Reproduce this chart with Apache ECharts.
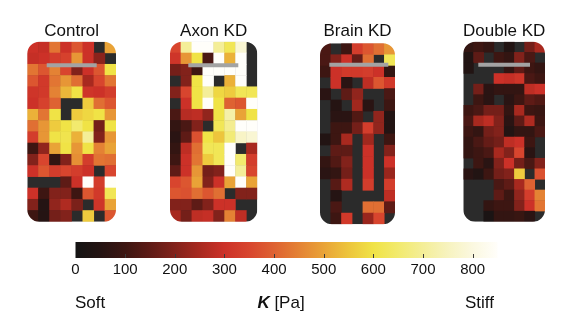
<!DOCTYPE html>
<html>
<head>
<meta charset="utf-8">
<script src="https://cdn.jsdelivr.net/npm/echarts@6/dist/echarts.min.js"></script>
<style>html,body{margin:0;padding:0;background:#fff;}#c{width:571px;height:315px;}</style>
</head>
<body>
<div id="c"></div>
<script>
// ---- data: stiffness K [Pa] per cell (null = no data, dark grey) ----
var panelNames = ['Control', 'Axon KD', 'Brain KD', 'Double KD'];
var controlK = [
 [300,290,430,300,380,300,null,500],
 [290,300,330,340,480,300,210,null],
 [430,380,450,350,200,300,380,600],
 [380,320,430,480,420,250,350,430],
 [310,320,450,530,600,310,300,330],
 [300,340,400,null,null,560,420,380],
 [520,430,600,null,560,580,600,480],
 [420,480,560,600,650,600,180,600],
 [330,480,600,610,520,700,200,480],
 [100,220,500,600,480,600,450,500],
 [200,350,80,200,470,330,430,420],
 [300,380,330,350,330,300,null,350],
 [null,null,null,150,300,850,330,850],
 [300,100,200,200,100,380,320,620],
 [200,50,220,260,190,null,310,500],
 [100,50,180,200,null,560,null,380]
];
var axonK = [
 [350,700,850,850,700,620,780,null],
 [310,480,600,120,850,520,850,null],
 [180,200,100,850,850,850,850,null],
 [null,200,600,850,null,520,850,null],
 [200,350,600,700,580,560,620,620],
 [null,300,600,850,600,400,380,850],
 [120,270,280,220,600,720,500,600],
 [80,120,200,null,620,690,850,850],
 [60,150,370,600,550,660,760,780],
 [80,280,420,620,620,850,null,250],
 [100,300,430,560,620,850,650,330],
 [150,300,480,180,200,850,700,350],
 [350,380,500,200,300,500,850,500],
 [380,370,420,380,420,null,200,200],
 [200,200,150,200,300,300,null,null],
 [250,180,280,290,200,450,280,null]
];
var brainK = [
 [120,null,100,330,380,420,480],
 [120,200,300,160,420,null,620],
 [100,300,320,320,330,300,80],
 [null,300,60,null,280,380,320],
 [60,null,150,220,null,null,120],
 [null,50,null,240,60,null,100],
 [null,60,60,130,null,220,40],
 [null,100,100,180,330,220,40],
 [40,100,250,null,240,null,100],
 [null,150,150,null,300,null,200],
 [80,130,200,null,300,null,300],
 [60,80,180,null,300,null,230],
 [null,140,260,null,330,null,330],
 [null,50,null,null,null,null,280],
 [null,120,null,null,420,420,150],
 [null,100,320,null,230,350,null]
];
var doubleK = [
 [80,100,80,null,40,null,180,250],
 [40,150,null,100,80,200,120,null],
 [40,null,null,null,80,150,100,80],
 [null,null,null,300,290,310,120,100],
 [null,180,60,80,80,80,280,300],
 [null,100,60,null,60,100,150,130],
 [100,120,180,180,80,250,100,90],
 [120,250,280,200,60,150,260,100],
 [100,80,180,200,40,80,80,120],
 [80,120,160,180,280,300,100,null],
 [80,100,120,250,200,350,60,null],
 [null,100,60,200,300,180,120,200],
 [60,40,100,180,200,560,null,370],
 [null,null,null,120,150,250,400,null],
 [null,null,null,150,100,220,330,450],
 [null,null,80,100,100,200,300,430],
 [null,null,20,80,80,90,60,null]
];
var kMin = 0, kMax = 850;
var tickValues = [100,200,300,400,500,600,700,800];
var labelValues = [0,100,200,300,400,500,600,700,800];
var cmapColors = ['#141414','#251413','#3d1612','#5e1b16','#82221b','#a8291f','#cc3128','#d8452e',
  '#de6232','#e48234','#e9a337','#edc53c','#f0e346','#f2ea6e','#f4ee98','#f7f3bf','#fbf8e0','#fffefa'];

// ---- layout ----
var panels = [
  {left:27.3, top:41.7, width:88.7, height:180, bar:[46.7,63.3,50,4]},
  {left:170, top:41.7, width:87.3, height:180, bar:[188.3,63.3,50,4]},
  {left:320, top:43.3, width:75, height:181, bar:[329.3,62.7,59,4]},
  {left:463.3, top:41.7, width:81.7, height:180, bar:[478.3,62.7,51.7,4]}
];
var mats = [controlK, axonK, brainK, doubleK];
var FONT = '"Liberation Sans", Arial, Helvetica, sans-serif';

var grids = [], xAxes = [], yAxes = [], series = [], graphics = [];
mats.forEach(function (m, i) {
  var p = panels[i];
  grids.push({left:p.left, top:p.top, width:p.width, height:p.height, show:true,
    backgroundColor:'#2b2b2b', borderWidth:0});
  var xs = [], ys = [];
  for (var c = 0; c < m[0].length; c++) xs.push(String(c));
  for (var r = 0; r < m.length; r++) ys.push(String(r));
  xAxes.push({type:'category', gridIndex:i, data:xs, show:false});
  yAxes.push({type:'category', gridIndex:i, data:ys, show:false, inverse:true});
  var d = [];
  m.forEach(function (row, r) { row.forEach(function (v, c) { if (v !== null) d.push([c, r, v]); }); });
  series.push({type:'heatmap', xAxisIndex:i, yAxisIndex:i, data:d, itemStyle:{borderWidth:0},
    emphasis:{disabled:true}, silent:true, progressive:0});
  // rounded-corner white frame
  var L = 10, rr = 12;
  graphics.push({type:'rect', z:100, silent:true,
    shape:{x:p.left - L/2, y:p.top - L/2, width:p.width + L, height:p.height + L, r:rr + L/2},
    style:{fill:null, stroke:'#ffffff', lineWidth:L}});
  graphics.push({type:'rect', z:110, silent:true,
    shape:{x:p.bar[0], y:p.bar[1], width:p.bar[2], height:p.bar[3]},
    style:{fill:'#a3a3a3'}});
  graphics.push({type:'text', z:120, silent:true, x:p.left + p.width/2, y:31.5,
    style:{text:panelNames[i], font:'17px ' + FONT, fill:'#111', align:'center', verticalAlign:'middle'}});
});

// colour bar grid
grids.push({left:75.5, top:242, width:422, height:16});
xAxes.push({type:'value', gridIndex:4, min:kMin, max:kMax,
  axisLine:{show:false}, splitLine:{show:false}, axisTick:{show:false},
  axisLabel:{show:true, customValues:labelValues, margin:4, fontSize:15, color:'#111', fontFamily:FONT}});
yAxes.push({type:'value', gridIndex:4, min:0, max:1, show:false});
var stops = cmapColors.map(function (col, k) { return {offset:k/(cmapColors.length-1), color:col}; });
series.push({type:'custom', xAxisIndex:4, yAxisIndex:4, silent:true, data:[[kMin, kMax]],
  renderItem:function (params, api) {
    var p0 = api.coord([api.value(0), 0]);
    var p1 = api.coord([api.value(1), 1]);
    var children = [{type:'rect', shape:{x:p0[0], y:p1[1], width:p1[0]-p0[0], height:p0[1]-p1[1]},
      style:{fill:new echarts.graphic.LinearGradient(0,0,1,0,stops)}}];
    tickValues.forEach(function (t) {
      var pt = api.coord([t, 0]);
      var px = Math.round(pt[0]) + 0.5;
      children.push({type:'line', shape:{x1:px, y1:pt[1], x2:px, y2:pt[1]-4},
        style:{stroke:'#3a3a3a', lineWidth:1}});
    });
    return {type:'group', children:children};
  }});

graphics.push({type:'text', z:120, x:75, y:303, style:{text:'Soft', font:'17px ' + FONT, fill:'#111', align:'left', verticalAlign:'middle'}});
graphics.push({type:'text', z:120, x:494, y:303, style:{text:'Stiff', font:'17px ' + FONT, fill:'#111', align:'right', verticalAlign:'middle'}});
graphics.push({type:'text', z:120, x:281, y:303, style:{
  text:'{k|K} [Pa]', font:'17px ' + FONT, fill:'#111', align:'center', verticalAlign:'middle',
  rich:{k:{fontWeight:'bold', fontStyle:'italic', fontSize:17, fontFamily:FONT, fill:'#111'}}}});

var chart = echarts.init(document.getElementById('c'), null, {renderer:'canvas'});
chart.setOption({
  animation:false,
  backgroundColor:'#ffffff',
  grid:grids, xAxis:xAxes, yAxis:yAxes,
  visualMap:{type:'continuous', show:false, min:kMin, max:kMax, seriesIndex:[0,1,2,3],
    inRange:{color:cmapColors}},
  series:series,
  graphic:graphics
});
</script>
</body>
</html>
